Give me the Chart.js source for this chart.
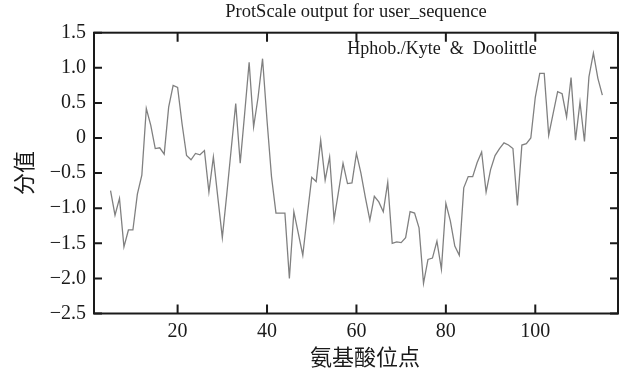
<!DOCTYPE html>
<html>
<head>
<meta charset="utf-8">
<script src="https://cdn.jsdelivr.net/npm/chart.js@4.4.1/dist/chart.umd.min.js"></script>
<style>
  html, body { margin: 0; padding: 0; background: #fff; }
  #wrap { width: 624px; height: 372px; }
</style>
</head>
<body>
<div id="wrap"><canvas id="chart" width="624" height="372"></canvas></div>
<script>
// Kyte & Doolittle hydropathy, window centred on residues 5..115
const startPos = 5;
const hphobValues = [
  -0.75, -1.10, -0.86, -1.55, -1.31, -1.31, -0.80, -0.53, 0.42, 0.18,
  -0.15, -0.14, -0.23, 0.44, 0.75, 0.72, 0.20, -0.25, -0.31, -0.22,
  -0.24, -0.18, -0.77, -0.27, -0.85, -1.42, -0.80, -0.15, 0.49, -0.36,
  0.35, 1.08, 0.16, 0.58, 1.13, 0.25, -0.55, -1.07, -1.07, -1.07,
  -2.00, -1.05, -1.36, -1.67, -1.10, -0.56, -0.62, -0.03, -0.60, -0.27,
  -1.16, -0.76, -0.36, -0.65, -0.64, -0.22, -0.50, -0.85, -1.17, -0.83,
  -0.91, -1.05, -0.63, -1.50, -1.48, -1.49, -1.42, -1.05, -1.07, -1.28,
  -2.07, -1.73, -1.71, -1.47, -1.87, -0.93, -1.18, -1.54, -1.67, -0.71,
  -0.55, -0.55, -0.35, -0.20, -0.77, -0.45, -0.25, -0.15, -0.07, -0.10,
  -0.15, -0.96, -0.10, -0.08, 0.00, 0.58, 0.92, 0.92, 0.04, 0.35,
  0.66, 0.63, 0.30, 0.86, -0.03, 0.51, -0.05, 0.87, 1.21, 0.85,
  0.61
];
const positions = hphobValues.map((v, i) => startPos + i);

const xTicks = [20, 40, 60, 80, 100];
const yTicks = [-2.5, -2.0, -1.5, -1.0, -0.5, 0, 0.5, 1.0, 1.5];

const chartTitle = 'ProtScale output for user_sequence';
const seriesLabel = 'Hphob./Kyte  &  Doolittle';
const xTitle = '氨基酸位点';
const yTitle = '分值';

const serif = '"Liberation Serif", "DejaVu Serif", serif';
const cjk = '"Noto Sans CJK SC", sans-serif';

// box, inward ticks on all four sides, in-plot label and x title
const framePlugin = {
  id: 'frame',
  afterDraw(chart) {
    const { ctx, chartArea: a, scales: { x, y } } = chart;
    ctx.save();
    ctx.strokeStyle = '#1a1a1a';
    ctx.lineWidth = 2;
    ctx.strokeRect(a.left, a.top, a.right - a.left, a.bottom - a.top);
    ctx.beginPath();
    x.ticks.forEach(t => {
      const px = x.getPixelForValue(t.value);
      ctx.moveTo(px, a.bottom); ctx.lineTo(px, a.bottom - 9);
      ctx.moveTo(px, a.top); ctx.lineTo(px, a.top + 9);
    });
    y.ticks.forEach(t => {
      const py = y.getPixelForValue(t.value);
      ctx.moveTo(a.left, py); ctx.lineTo(a.left + 8, py);
      ctx.moveTo(a.right, py); ctx.lineTo(a.right - 8, py);
    });
    ctx.stroke();

    ctx.fillStyle = '#1a1a1a';
    ctx.textAlign = 'center';
    ctx.textBaseline = 'middle';
    ctx.font = '18px ' + serif;
    ctx.fillText(seriesLabel, a.right - 176, a.top + 17);
    ctx.font = '22px ' + cjk;
    ctx.fillText(xTitle, (a.left + a.right) / 2 + 9, 357);
    ctx.restore();
  }
};

const ctx = document.getElementById('chart').getContext('2d');
new Chart(ctx, {
  type: 'line',
  data: {
    datasets: [{
      label: seriesLabel,
      data: positions.map((p, i) => ({ x: p, y: hphobValues[i] })),
      borderColor: '#808080',
      borderWidth: 1.3,
      pointRadius: 0,
      tension: 0,
      fill: false
    }]
  },
  options: {
    responsive: false,
    animation: false,
    layout: { padding: { top: 0, right: 6, bottom: 0, left: 0 } },
    plugins: {
      legend: { display: false },
      tooltip: { enabled: false },
      title: {
        display: true,
        fullSize: false,
        text: chartTitle,
        color: '#1a1a1a',
        font: { family: serif, size: 18.5, weight: 'normal' },
        padding: { top: 1, bottom: 9.5 }
      }
    },
    scales: {
      x: {
        type: 'linear',
        min: 1.3,
        max: 118.5,
        afterFit(scale) { scale.height = 58.5; },
        afterBuildTicks(scale) { scale.ticks = xTicks.map(v => ({ value: v })); },
        grid: { display: false, drawTicks: false },
        border: { display: false },
        ticks: {
          color: '#1a1a1a',
          font: { family: serif, size: 20 },
          padding: 6,
          maxRotation: 0
        }
      },
      y: {
        type: 'linear',
        min: -2.5,
        max: 1.5,
        afterFit(scale) { scale.width = 94; },
        afterBuildTicks(scale) { scale.ticks = yTicks.map(v => ({ value: v })); },
        grid: { display: false, drawTicks: false },
        border: { display: false },
        ticks: {
          color: '#1a1a1a',
          font: { family: serif, size: 20 },
          padding: 8,
          callback: v => v === 0 ? '0' : v.toFixed(1).replace('-', '\u2212')
        },
        title: {
          display: true,
          text: yTitle,
          color: '#1a1a1a',
          font: { family: cjk, size: 22 },
          padding: { top: 10, bottom: 0 }
        }
      }
    }
  },
  plugins: [framePlugin]
});
</script>
</body>
</html>
